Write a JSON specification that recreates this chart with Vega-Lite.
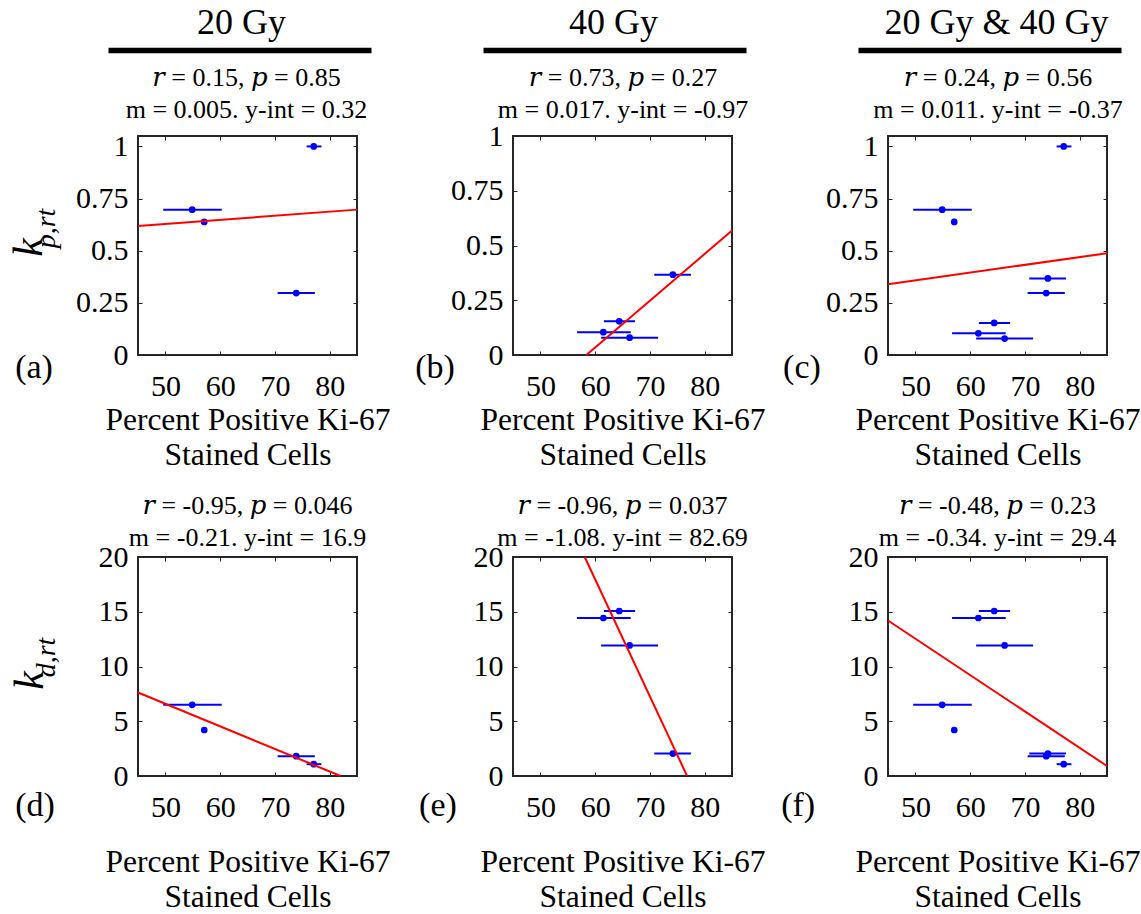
{
  "$schema": "https://vega.github.io/schema/vega-lite/v6.json",
  "background": "white",
  "padding": {"left": 6, "top": 4, "right": 2, "bottom": 2},
  "datasets": {
    "samples": [
      {"group": "20 Gy", "x": 54.9, "lo": 49.6, "hi": 60.3, "kp": 0.697, "kd": 6.5},
      {"group": "20 Gy", "x": 57.1, "lo": 57.1, "hi": 57.1, "kp": 0.638, "kd": 4.2},
      {"group": "20 Gy", "x": 77.1, "lo": 75.8, "hi": 78.5, "kp": 1.0, "kd": 1.08},
      {"group": "20 Gy", "x": 73.9, "lo": 70.5, "hi": 77.3, "kp": 0.297, "kd": 1.81},
      {"group": "40 Gy", "x": 74.2, "lo": 70.8, "hi": 77.5, "kp": 0.367, "kd": 2.05},
      {"group": "40 Gy", "x": 64.4, "lo": 61.6, "hi": 67.3, "kp": 0.154, "kd": 15.07},
      {"group": "40 Gy", "x": 61.5, "lo": 56.7, "hi": 66.5, "kp": 0.104, "kd": 14.43},
      {"group": "40 Gy", "x": 66.3, "lo": 61.1, "hi": 71.5, "kp": 0.079, "kd": 11.92}
    ],
    "fits": [
      {"panel": "a", "x": 45, "y": 0.619}, {"panel": "a", "x": 85, "y": 0.697},
      {"panel": "b", "x": 58.4, "y": 0}, {"panel": "b", "x": 85, "y": 0.568},
      {"panel": "c", "x": 45, "y": 0.339}, {"panel": "c", "x": 85, "y": 0.488},
      {"panel": "d", "x": 45, "y": 7.63}, {"panel": "d", "x": 82.0, "y": 0},
      {"panel": "e", "x": 58.1, "y": 20}, {"panel": "e", "x": 76.8, "y": 0},
      {"panel": "f", "x": 45, "y": 14.2}, {"panel": "f", "x": 85, "y": 0.91}
    ],
    "labels": [
      {"panel": "a", "label": "(a)"}, {"panel": "b", "label": "(b)"}, {"panel": "c", "label": "(c)"},
      {"panel": "d", "label": "(d)"}, {"panel": "e", "label": "(e)"}, {"panel": "f", "label": "(f)"}
    ]
  },
  "config": {
    "font": "Liberation Serif, DejaVu Serif, serif",
    "view": {"stroke": "#262626", "strokeWidth": 2},
    "axis": {
      "labelFont": "Liberation Serif, DejaVu Serif, serif", "labelFontSize": 30, "labelColor": "black",
      "titleFont": "Liberation Serif, DejaVu Serif, serif", "titleFontWeight": "normal", "titleColor": "black",
      "grid": false, "domain": false, "tickColor": "#262626", "tickSize": -4, "tickWidth": 1,
      "labelFlush": false, "labelOverlap": false
    },
    "title": {"font": "Liberation Serif, DejaVu Serif, serif", "fontSize": 26, "fontWeight": "normal", "color": "black", "lineHeight": 32},
    "text": {"font": "Liberation Serif, DejaVu Serif, serif", "color": "black"}
  },
  "columns": 3,
  "bounds": "flush",
  "spacing": {"row": 202, "column": 156},
  "concat": [
    {
      "width": 219, "height": 219,
      "title": {"text": "20 Gy", "fontSize": 36, "baseline": "alphabetic", "offset": -20, "dx": -6},
      "layer": [
        {"data": {"name": "samples"}, "transform": [{"filter": "datum.group == '20 Gy'"}],
         "mark": {"type": "rule", "color": "#0000ff", "strokeWidth": 2},
         "encoding": {
           "x": {"field": "lo", "type": "quantitative", "scale": {"domain": [45, 85], "nice": false, "zero": false},
                 "axis": {"orient": "bottom", "values": [50, 60, 70, 80], "labelPadding": 20, "title": ["Percent Positive Ki-67", "Stained Cells"], "titleFontSize": 31.5, "titleLineHeight": 35, "titlePadding": 3}},
           "x2": {"field": "hi"},
           "y": {"field": "kp", "type": "quantitative", "scale": {"domain": [0, 1.05], "nice": false},
                 "axis": {"orient": "left", "values": [0, 0.25, 0.5, 0.75, 1], "labelExpr": "'' + datum.value", "labelPadding": 14, "title": "k", "titleFontSize": 42, "titleFontStyle": "italic", "titleBaseline": "alphabetic", "titleX": -97, "titleY": 111}}
         }},
        {"data": {"name": "samples"}, "transform": [{"filter": "datum.group == '20 Gy'"}],
         "mark": {"type": "circle", "color": "#0000ff", "size": 45, "opacity": 1},
         "encoding": {
           "x": {"field": "x", "type": "quantitative", "scale": {"domain": [45, 85], "nice": false, "zero": false}, "axis": {"orient": "top", "values": [50, 60, 70, 80], "labels": false, "title": null}},
           "y": {"field": "kp", "type": "quantitative", "axis": {"orient": "right", "values": [0, 0.25, 0.5, 0.75, 1], "labels": false, "title": null}}
         }},
        {"data": {"name": "fits"}, "transform": [{"filter": "datum.panel == 'a'"}],
         "mark": {"type": "line", "color": "#ff0000", "strokeWidth": 2},
         "encoding": {
           "x": {"field": "x", "type": "quantitative", "scale": {"domain": [45, 85], "nice": false, "zero": false}, "axis": null},
           "y": {"field": "y", "type": "quantitative", "axis": {"orient": "left", "ticks": false, "labels": false, "title": "p,rt", "titleFontSize": 28, "titleFontStyle": "italic", "titleBaseline": "alphabetic", "titleX": -84, "titleY": 92}}
         }},
        {"data": {"name": "labels"}, "transform": [{"filter": "datum.panel == 'a'"}],
         "mark": {"type": "text", "fontSize": 34, "baseline": "middle", "align": "center"},
         "encoding": {"text": {"field": "label"},
           "x": {"datum": 33.75, "scale": {"domain": [45, 85], "range": [-30, 233], "nice": false, "zero": false},
                 "axis": {"orient": "top", "offset": 86, "domain": true, "domainColor": "black", "domainWidth": 5.5, "ticks": false, "labels": false, "title": ["𝑟 = 0.15, 𝑝 = 0.85", "m = 0.005. y-int = 0.32"], "titleFontSize": 26, "titleLineHeight": 32, "titleAngle": 0, "titleAlign": "center", "titleBaseline": "alphabetic", "titleX": 108, "titleY": 35}},
           "y": {"datum": -0.062, "axis": null}}}
      ],
      "resolve": {"axis": {"x": "independent", "y": "independent"}, "scale": {"x": "independent"}}
    },
    {
      "width": 219, "height": 219,
      "title": {"text": "40 Gy", "fontSize": 36, "baseline": "alphabetic", "offset": -20, "dx": -9},
      "layer": [
        {"data": {"name": "samples"}, "transform": [{"filter": "datum.group == '40 Gy'"}],
         "mark": {"type": "rule", "color": "#0000ff", "strokeWidth": 2},
         "encoding": {
           "x": {"field": "lo", "type": "quantitative", "scale": {"domain": [45, 85], "nice": false, "zero": false},
                 "axis": {"orient": "bottom", "values": [50, 60, 70, 80], "labelPadding": 20, "title": ["Percent Positive Ki-67", "Stained Cells"], "titleFontSize": 31.5, "titleLineHeight": 35, "titlePadding": 3}},
           "x2": {"field": "hi"},
           "y": {"field": "kp", "type": "quantitative", "scale": {"domain": [0, 1], "nice": false},
                 "axis": {"orient": "left", "values": [0, 0.25, 0.5, 0.75, 1], "labelExpr": "'' + datum.value", "labelPadding": 14, "title": null}}
         }},
        {"data": {"name": "samples"}, "transform": [{"filter": "datum.group == '40 Gy'"}],
         "mark": {"type": "circle", "color": "#0000ff", "size": 45, "opacity": 1},
         "encoding": {
           "x": {"field": "x", "type": "quantitative", "scale": {"domain": [45, 85], "nice": false, "zero": false}, "axis": {"orient": "top", "values": [50, 60, 70, 80], "labels": false, "title": null}},
           "y": {"field": "kp", "type": "quantitative", "axis": {"orient": "right", "values": [0, 0.25, 0.5, 0.75, 1], "labels": false, "title": null}}
         }},
        {"data": {"name": "fits"}, "transform": [{"filter": "datum.panel == 'b'"}],
         "mark": {"type": "line", "color": "#ff0000", "strokeWidth": 2},
         "encoding": {
           "x": {"field": "x", "type": "quantitative", "scale": {"domain": [45, 85], "nice": false, "zero": false}, "axis": null},
           "y": {"field": "y", "type": "quantitative", "axis": null}
         }},
        {"data": {"name": "labels"}, "transform": [{"filter": "datum.panel == 'b'"}],
         "mark": {"type": "text", "fontSize": 34, "baseline": "middle", "align": "center"},
         "encoding": {"text": {"field": "label"},
           "x": {"datum": 37.7, "scale": {"domain": [45, 85], "range": [-30, 233], "nice": false, "zero": false},
                 "axis": {"orient": "top", "offset": 86, "domain": true, "domainColor": "black", "domainWidth": 5.5, "ticks": false, "labels": false, "title": ["𝑟 = 0.73, 𝑝 = 0.27", "m = 0.017. y-int = -0.97"], "titleFontSize": 26, "titleLineHeight": 32, "titleAngle": 0, "titleAlign": "center", "titleBaseline": "alphabetic", "titleX": 109.5, "titleY": 35}},
           "y": {"datum": -0.059, "axis": null}}}
      ],
      "resolve": {"axis": {"x": "independent", "y": "independent"}, "scale": {"x": "independent"}}
    },
    {
      "width": 219, "height": 219,
      "title": {"text": "20 Gy & 40 Gy", "fontSize": 36, "baseline": "alphabetic", "offset": -20, "dx": -1},
      "layer": [
        {"data": {"name": "samples"},
         "mark": {"type": "rule", "color": "#0000ff", "strokeWidth": 2},
         "encoding": {
           "x": {"field": "lo", "type": "quantitative", "scale": {"domain": [45, 85], "nice": false, "zero": false},
                 "axis": {"orient": "bottom", "values": [50, 60, 70, 80], "labelPadding": 20, "title": ["Percent Positive Ki-67", "Stained Cells"], "titleFontSize": 31.5, "titleLineHeight": 35, "titlePadding": 3}},
           "x2": {"field": "hi"},
           "y": {"field": "kp", "type": "quantitative", "scale": {"domain": [0, 1.05], "nice": false},
                 "axis": {"orient": "left", "values": [0, 0.25, 0.5, 0.75, 1], "labelExpr": "'' + datum.value", "labelPadding": 14, "title": null}}
         }},
        {"data": {"name": "samples"},
         "mark": {"type": "circle", "color": "#0000ff", "size": 45, "opacity": 1},
         "encoding": {
           "x": {"field": "x", "type": "quantitative", "scale": {"domain": [45, 85], "nice": false, "zero": false}, "axis": {"orient": "top", "values": [50, 60, 70, 80], "labels": false, "title": null}},
           "y": {"field": "kp", "type": "quantitative", "axis": {"orient": "right", "values": [0, 0.25, 0.5, 0.75, 1], "labels": false, "title": null}}
         }},
        {"data": {"name": "fits"}, "transform": [{"filter": "datum.panel == 'c'"}],
         "mark": {"type": "line", "color": "#ff0000", "strokeWidth": 2},
         "encoding": {
           "x": {"field": "x", "type": "quantitative", "scale": {"domain": [45, 85], "nice": false, "zero": false}, "axis": null},
           "y": {"field": "y", "type": "quantitative", "axis": null}
         }},
        {"data": {"name": "labels"}, "transform": [{"filter": "datum.panel == 'c'"}],
         "mark": {"type": "text", "fontSize": 34, "baseline": "middle", "align": "center"},
         "encoding": {"text": {"field": "label"},
           "x": {"datum": 36.48, "scale": {"domain": [45, 85], "range": [-30, 233], "nice": false, "zero": false},
                 "axis": {"orient": "top", "offset": 86, "domain": true, "domainColor": "black", "domainWidth": 5.5, "ticks": false, "labels": false, "title": ["𝑟 = 0.24, 𝑝 = 0.56", "m = 0.011. y-int = -0.37"], "titleFontSize": 26, "titleLineHeight": 32, "titleAngle": 0, "titleAlign": "center", "titleBaseline": "alphabetic", "titleX": 109.5, "titleY": 35}},
           "y": {"datum": -0.062, "axis": null}}}
      ],
      "resolve": {"axis": {"x": "independent", "y": "independent"}, "scale": {"x": "independent"}}
    },
    {
      "width": 219, "height": 219,
      "title": {"text": ["𝑟 = -0.95, 𝑝 = 0.046", "m = -0.21. y-int = 16.9"], "offset": -9},
      "layer": [
        {"data": {"name": "samples"}, "transform": [{"filter": "datum.group == '20 Gy'"}],
         "mark": {"type": "rule", "color": "#0000ff", "strokeWidth": 2},
         "encoding": {
           "x": {"field": "lo", "type": "quantitative", "scale": {"domain": [45, 85], "nice": false, "zero": false},
                 "axis": {"orient": "bottom", "values": [50, 60, 70, 80], "labelPadding": 20, "title": ["Percent Positive Ki-67", "Stained Cells"], "titleFontSize": 31.5, "titleLineHeight": 35, "titlePadding": 24}},
           "x2": {"field": "hi"},
           "y": {"field": "kd", "type": "quantitative", "scale": {"domain": [0, 20], "nice": false},
                 "axis": {"orient": "left", "values": [0, 5, 10, 15, 20], "labelPadding": 14, "title": "k", "titleFontSize": 42, "titleFontStyle": "italic", "titleBaseline": "alphabetic", "titleX": -96, "titleY": 123}}
         }},
        {"data": {"name": "samples"}, "transform": [{"filter": "datum.group == '20 Gy'"}],
         "mark": {"type": "circle", "color": "#0000ff", "size": 45, "opacity": 1},
         "encoding": {
           "x": {"field": "x", "type": "quantitative", "axis": {"orient": "top", "values": [50, 60, 70, 80], "labels": false, "title": null}},
           "y": {"field": "kd", "type": "quantitative", "axis": {"orient": "right", "values": [0, 5, 10, 15, 20], "labels": false, "title": null}}
         }},
        {"data": {"name": "fits"}, "transform": [{"filter": "datum.panel == 'd'"}],
         "mark": {"type": "line", "color": "#ff0000", "strokeWidth": 2},
         "encoding": {
           "x": {"field": "x", "type": "quantitative", "axis": null},
           "y": {"field": "y", "type": "quantitative", "axis": {"orient": "left", "ticks": false, "labels": false, "title": "d,rt", "titleFontSize": 28, "titleFontStyle": "italic", "titleBaseline": "alphabetic", "titleX": -84, "titleY": 100}}
         }},
        {"data": {"name": "labels"}, "transform": [{"filter": "datum.panel == 'd'"}],
         "mark": {"type": "text", "fontSize": 34, "baseline": "middle", "align": "center"},
         "encoding": {"text": {"field": "label"}, "x": {"datum": 26.2, "axis": null}, "y": {"datum": -2.7, "axis": null}}}
      ],
      "resolve": {"axis": {"x": "independent", "y": "independent"}}
    },
    {
      "width": 219, "height": 219,
      "title": {"text": ["𝑟 = -0.96, 𝑝 = 0.037", "m = -1.08. y-int = 82.69"], "offset": -9},
      "layer": [
        {"data": {"name": "samples"}, "transform": [{"filter": "datum.group == '40 Gy'"}],
         "mark": {"type": "rule", "color": "#0000ff", "strokeWidth": 2},
         "encoding": {
           "x": {"field": "lo", "type": "quantitative", "scale": {"domain": [45, 85], "nice": false, "zero": false},
                 "axis": {"orient": "bottom", "values": [50, 60, 70, 80], "labelPadding": 20, "title": ["Percent Positive Ki-67", "Stained Cells"], "titleFontSize": 31.5, "titleLineHeight": 35, "titlePadding": 24}},
           "x2": {"field": "hi"},
           "y": {"field": "kd", "type": "quantitative", "scale": {"domain": [0, 20], "nice": false},
                 "axis": {"orient": "left", "values": [0, 5, 10, 15, 20], "labelPadding": 14, "title": null}}
         }},
        {"data": {"name": "samples"}, "transform": [{"filter": "datum.group == '40 Gy'"}],
         "mark": {"type": "circle", "color": "#0000ff", "size": 45, "opacity": 1},
         "encoding": {
           "x": {"field": "x", "type": "quantitative", "axis": {"orient": "top", "values": [50, 60, 70, 80], "labels": false, "title": null}},
           "y": {"field": "kd", "type": "quantitative", "axis": {"orient": "right", "values": [0, 5, 10, 15, 20], "labels": false, "title": null}}
         }},
        {"data": {"name": "fits"}, "transform": [{"filter": "datum.panel == 'e'"}],
         "mark": {"type": "line", "color": "#ff0000", "strokeWidth": 2},
         "encoding": {
           "x": {"field": "x", "type": "quantitative", "axis": null},
           "y": {"field": "y", "type": "quantitative", "axis": null}
         }},
        {"data": {"name": "labels"}, "transform": [{"filter": "datum.panel == 'e'"}],
         "mark": {"type": "text", "fontSize": 34, "baseline": "middle", "align": "center"},
         "encoding": {"text": {"field": "label"}, "x": {"datum": 31.3, "axis": null}, "y": {"datum": -2.7, "axis": null}}}
      ],
      "resolve": {"axis": {"x": "independent", "y": "independent"}}
    },
    {
      "width": 219, "height": 219,
      "title": {"text": ["𝑟  = -0.48, 𝑝 = 0.23", "m = -0.34. y-int = 29.4"], "offset": -9},
      "layer": [
        {"data": {"name": "samples"},
         "mark": {"type": "rule", "color": "#0000ff", "strokeWidth": 2},
         "encoding": {
           "x": {"field": "lo", "type": "quantitative", "scale": {"domain": [45, 85], "nice": false, "zero": false},
                 "axis": {"orient": "bottom", "values": [50, 60, 70, 80], "labelPadding": 20, "title": ["Percent Positive Ki-67", "Stained Cells"], "titleFontSize": 31.5, "titleLineHeight": 35, "titlePadding": 24}},
           "x2": {"field": "hi"},
           "y": {"field": "kd", "type": "quantitative", "scale": {"domain": [0, 20], "nice": false},
                 "axis": {"orient": "left", "values": [0, 5, 10, 15, 20], "labelPadding": 14, "title": null}}
         }},
        {"data": {"name": "samples"},
         "mark": {"type": "circle", "color": "#0000ff", "size": 45, "opacity": 1},
         "encoding": {
           "x": {"field": "x", "type": "quantitative", "axis": {"orient": "top", "values": [50, 60, 70, 80], "labels": false, "title": null}},
           "y": {"field": "kd", "type": "quantitative", "axis": {"orient": "right", "values": [0, 5, 10, 15, 20], "labels": false, "title": null}}
         }},
        {"data": {"name": "fits"}, "transform": [{"filter": "datum.panel == 'f'"}],
         "mark": {"type": "line", "color": "#ff0000", "strokeWidth": 2},
         "encoding": {
           "x": {"field": "x", "type": "quantitative", "axis": null},
           "y": {"field": "y", "type": "quantitative", "axis": null}
         }},
        {"data": {"name": "labels"}, "transform": [{"filter": "datum.panel == 'f'"}],
         "mark": {"type": "text", "fontSize": 34, "baseline": "middle", "align": "center"},
         "encoding": {"text": {"field": "label"}, "x": {"datum": 28.6, "axis": null}, "y": {"datum": -2.7, "axis": null}}}
      ],
      "resolve": {"axis": {"x": "independent", "y": "independent"}}
    }
  ]
}
